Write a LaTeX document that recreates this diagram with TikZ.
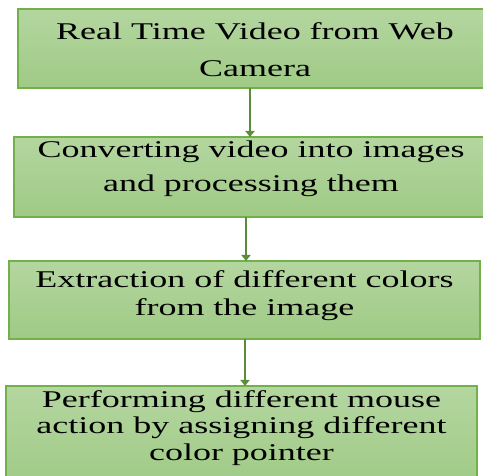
\documentclass[tikz,border=0pt]{standalone}
\usepackage{fontspec}
\setmainfont{Liberation Serif}[FakeStretch=1.5]
\usetikzlibrary{arrows.meta,calc}
\definecolor{boxtop}{HTML}{B4D6A0}
\definecolor{boxbot}{HTML}{9FCA85}
\definecolor{boxline}{HTML}{72B04A}
\definecolor{arrcol}{HTML}{5A8C3A}
\begin{document}
\begin{tikzpicture}[x=1pt,y=1pt,
  stepbox/.style={draw=boxline, line width=1.2pt, top color=boxtop, bottom color=boxbot, inner sep=0pt},
  boxtext/.style={align=center, font=\fontsize{24}{28}\selectfont, text=black, inner sep=0pt},
  arr/.style={draw=arrcol, line width=2.6pt, -{Triangle[width=9pt,length=6pt]}}]
\useasboundingbox (0,0) rectangle (483,-476);
\clip (0,0) rectangle (483,-476);
\path[stepbox] (18,-9) rectangle (492,-88);
\path[stepbox] (14,-137) rectangle (488,-217);
\path[stepbox] (9,-261) rectangle (480,-339);
\path[stepbox] (6,-386) rectangle (477,-490);
\node[boxtext, font=\fontsize{24}{37}\selectfont] (b1) at (255,-50) {Real Time Video from Web\\Camera};
\node[boxtext, font=\fontsize{24}{34}\selectfont] (b2) at (251,-169) {Converting video into images\\and processing them};
\node[boxtext] (b3) at (244.5,-296) {Extraction of different colors\\from the image};
\node[boxtext, font=\fontsize{24}{26.5}\selectfont] (b4) at (241.5,-428) {Performing different mouse\\action by assigning different\\color pointer};
\coordinate (s1) at (250,-88);
\coordinate (e1) at (250,-137);
\coordinate (s2) at (246,-217);
\coordinate (e2) at (246,-261);
\coordinate (s3) at (245,-339);
\coordinate (e3) at (245,-386);
\draw[arr] (s1) -- (e1);
\draw[arr] (s2) -- (e2);
\draw[arr] (s3) -- (e3);
\end{tikzpicture}
\end{document}
